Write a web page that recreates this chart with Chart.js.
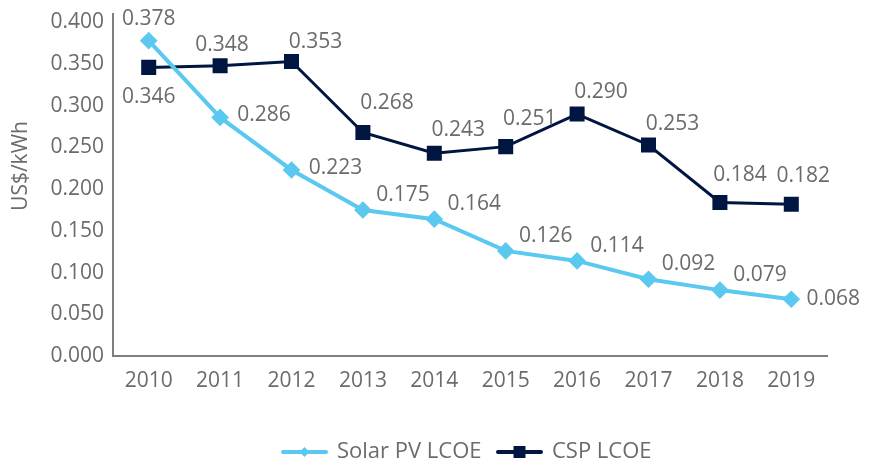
<!DOCTYPE html>
<html>
<head>
<meta charset="utf-8">
<script src="https://cdn.jsdelivr.net/npm/chart.js@4.4.1/dist/chart.umd.min.js"></script>
<style>
  html, body { margin:0; padding:0; background:#fff; }
  #wrap { width:875px; height:465px; position:relative; }
</style>
</head>
<body>
<div id="wrap"><canvas id="chart"></canvas></div>
<script>
// data
const years = ['2010','2011','2012','2013','2014','2015','2016','2017','2018','2019'];
const solarPV = [0.378, 0.286, 0.223, 0.175, 0.164, 0.126, 0.114, 0.092, 0.079, 0.068];
const csp = [0.346, 0.348, 0.353, 0.268, 0.243, 0.251, 0.290, 0.253, 0.184, 0.182];
const yTicks = [0, 0.05, 0.1, 0.15, 0.2, 0.25, 0.3, 0.35, 0.4];

const SOLAR_COL = '#5bc8ef';
const CSP_COL = '#001641';
const TXT = '#6b6b6b';
const AXIS = '#7f7f7f';
const FONT = "'Open Sans', 'DejaVu Sans', sans-serif";

/* ---------- value labels (placed like the excel original) ---------- */
function labelPos(ds, i){
  if(ds === 0){ // solar
    if(i === 0) return { dx: 0, dy: -22 };
    if(i === 1 || i === 2) return { dx: 44, dy: -2 };
    if(i === 9) return { dx: 42, dy: 0 };
    return { dx: 40, dy: -15 };
  }
  // csp
  if(i === 0) return { dx: 0, dy: 30 };
  if(i === 1) return { dx: 2, dy: -21 };
  if(i === 8) return { dx: 20, dy: -28 };
  if(i === 9) return { dx: 12, dy: -28 };
  const dys = [0, 0, -20, -29, -23, -28, -22, -21];
  return { dx: 24, dy: dys[i] };
}

const labelPlugin = {
  id: 'valueLabels',
  afterDatasetsDraw(chart){
    const ctx = chart.ctx;
    ctx.save();
    ctx.font = '21px ' + FONT;
    ctx.fillStyle = TXT;
    ctx.textAlign = 'center';
    ctx.textBaseline = 'middle';
    chart.data.datasets.forEach((ds, di) => {
      chart.getDatasetMeta(di).data.forEach((pt, i) => {
        const p = labelPos(di, i);
        ctx.fillText(ds.data[i].toFixed(3), pt.x + p.dx, pt.y + p.dy);
      });
    });
    ctx.restore();
  }
};

/* ---------- y title + legend drawn by hand ---------- */
const extrasPlugin = {
  id: 'extras',
  afterDraw(chart){
    const ctx = chart.ctx;
    ctx.save();
    // y title
    ctx.font = '21px ' + FONT;
    ctx.fillStyle = TXT;
    ctx.textAlign = 'center';
    ctx.textBaseline = 'middle';
    ctx.translate(21, 166);
    ctx.rotate(-Math.PI/2);
    ctx.fillText('US$/kWh', 0, 0);
    ctx.restore();

    // legend
    ctx.save();
    const y = 452;
    const items = [
      { x: 283, text: 'Solar PV LCOE', col: SOLAR_COL, style: 'diamond' },
      { x: 498, text: 'CSP LCOE', col: CSP_COL, style: 'square' }
    ];
    items.forEach(it => {
      ctx.strokeStyle = it.col;
      ctx.fillStyle = it.col;
      ctx.lineWidth = 4;
      ctx.lineCap = 'round';
      ctx.beginPath();
      ctx.moveTo(it.x, y); ctx.lineTo(it.x + 43, y);
      ctx.stroke();
      const cx = it.x + 21.5;
      if(it.style === 'diamond'){
        ctx.beginPath();
        ctx.moveTo(cx, y - 5); ctx.lineTo(cx + 5, y); ctx.lineTo(cx, y + 5); ctx.lineTo(cx - 5, y);
        ctx.closePath(); ctx.fill();
      } else {
        ctx.fillRect(cx - 6, y - 6, 12, 12);
      }
      ctx.font = '22px ' + FONT;
      ctx.fillStyle = TXT;
      ctx.textAlign = 'left';
      ctx.textBaseline = 'middle';
      ctx.fillText(it.text, it.x + 54, y);
    });
    ctx.restore();
  }
};

new Chart(document.getElementById('chart'), {
  type: 'line',
  data: {
    labels: years,
    datasets: [
      {
        label: 'Solar PV LCOE', data: solarPV,
        borderColor: SOLAR_COL, backgroundColor: SOLAR_COL, borderWidth: 4,
        pointStyle: 'rectRot', pointRadius: 6, pointHoverRadius: 6, tension: 0
      },
      {
        label: 'CSP LCOE', data: csp,
        borderColor: CSP_COL, backgroundColor: CSP_COL, borderWidth: 3,
        pointStyle: 'rect', pointRadius: 8.5, pointHoverRadius: 8.5, tension: 0
      }
    ]
  },
  options: {
    responsive: true,
    maintainAspectRatio: false,
    animation: false,
    layout: { padding: { top: 14, right: 48, left: 0, bottom: 0 } },
    plugins: { legend: { display: false }, tooltip: { enabled: false } },
    scales: {
      x: {
        offset: true,
        grid: { display: false, drawTicks: false },
        border: { display: true, color: AXIS, width: 2 },
        ticks: { color: TXT, font: { family: FONT, size: 21 }, padding: 12, maxRotation: 0 },
        afterFit(scale){
          scale.height = 465 - 356;
          scale.paddingLeft = 0; scale.paddingRight = 0;
        }
      },
      y: {
        min: 0, max: 0.41,
        grid: { display: false, drawTicks: false },
        border: { display: true, color: AXIS, width: 2 },
        ticks: {
          color: TXT, font: { family: FONT, size: 21 }, padding: 9,
          callback: v => v.toFixed(3)
        },
        afterBuildTicks(scale){ scale.ticks = yTicks.map(v => ({ value: v })); },
        afterFit(scale){
          scale.width = 113;
          scale.paddingTop = 0; scale.paddingBottom = 0;
        }
      }
    }
  },
  plugins: [labelPlugin, extrasPlugin]
});
</script>
</body>
</html>
